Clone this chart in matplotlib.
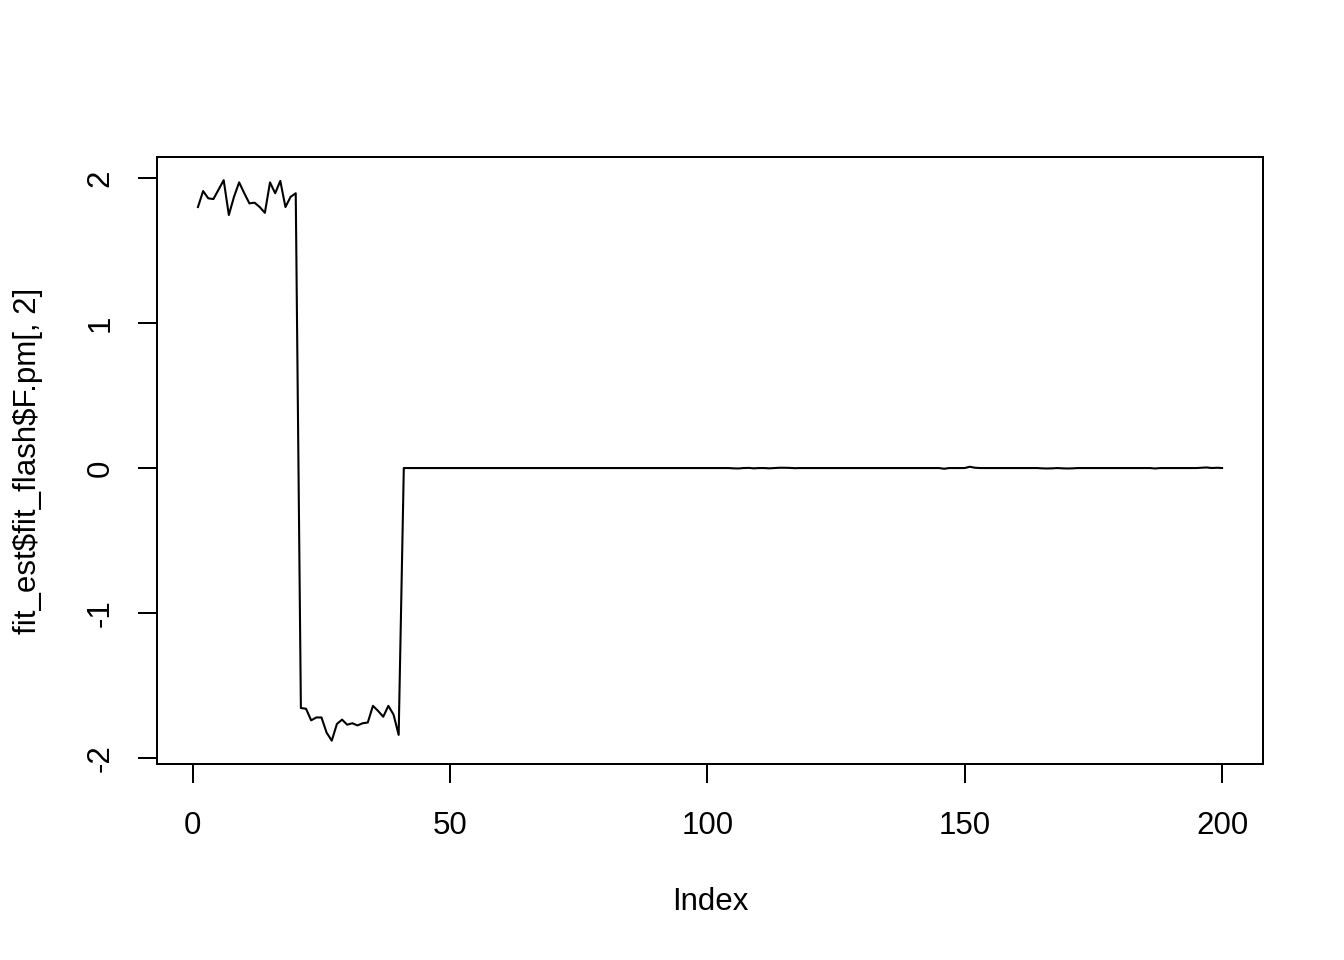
import numpy as np
import matplotlib
matplotlib.use("Agg")
import matplotlib.pyplot as plt

# ---- data (index 1..200) ----
# first block, index 1-20
block_hi = [1.80, 1.91, 1.86, 1.855, 1.92, 1.985, 1.745, 1.87, 1.97, 1.895,
            1.825, 1.83, 1.80, 1.76, 1.97, 1.895, 1.98, 1.80, 1.87, 1.895]
# second block, index 21-40
block_lo = [-1.655, -1.66, -1.74, -1.72, -1.72, -1.825, -1.88, -1.765, -1.735, -1.77,
            -1.76, -1.775, -1.76, -1.755, -1.64, -1.675, -1.715, -1.64, -1.70, -1.84]
# index 41-100: flat at zero
tail_flat = [0.0] * 60
# index 101-200: near zero with tiny wiggles
tail_wiggle = [0.0, 0.0, 0.0, 0.0, -0.002, -0.003, 0.0, 0.001, -0.002, 0.0,
               0.0, -0.002, 0.0, 0.002, 0.002, 0.001, -0.001, 0.0, 0.0, 0.0,
               0.0, 0.0, 0.0, 0.0, 0.0, 0.0, 0.0, 0.0, 0.0, 0.0,
               0.0, 0.0, 0.0, 0.0, 0.0, 0.0, 0.0, 0.0, 0.0, 0.0,
               0.0, 0.0, 0.0, 0.0, 0.0, -0.005, 0.0, 0.0, 0.0, 0.0,
               0.009, 0.002, 0.0, 0.0, 0.0, 0.0, 0.0, 0.0, 0.0, 0.0,
               0.0, 0.0, 0.0, 0.0, -0.002, -0.003, -0.002, 0.0, -0.002, -0.003,
               -0.002, 0.0, 0.0, 0.0, 0.0, 0.0, 0.0, 0.0, 0.0, 0.0,
               0.0, 0.0, 0.0, 0.0, 0.0, 0.0, -0.003, 0.0, 0.0, 0.0,
               0.0, 0.0, 0.0, 0.0, 0.0, 0.002, 0.004, 0.0, 0.002, 0.0]

values = np.array(block_hi + block_lo + tail_flat + tail_wiggle)
index = np.arange(1, len(values) + 1)

x_ticks = [0, 50, 100, 150, 200]
y_ticks = [-2, -1, 0, 1, 2]

plt.rcParams['font.family'] = ['Liberation Sans', 'DejaVu Sans']
plt.rcParams['axes.unicode_minus'] = False  # R uses a plain hyphen

fig = plt.figure(figsize=(13.44, 9.6), dpi=100)
ax = fig.add_axes([157 / 1344, 1 - 764 / 960, (1263 - 157) / 1344, (764 - 157) / 960])

ax.plot(index, values, color='black', linewidth=1.5)

ax.set_xlim(-6.96, 207.96)
ax.set_ylim(-2.041, 2.145)

ax.set_xticks(x_ticks)
ax.set_yticks(y_ticks)
ax.tick_params(axis='both', direction='out', length=13.8, width=1.44,
               labelsize=22.5, color='black')
ax.tick_params(axis='x', pad=20)
ax.tick_params(axis='y', pad=16)
for lab in ax.get_yticklabels():
    lab.set_rotation(90)
    lab.set_va('center')

for sp in ax.spines.values():
    sp.set_linewidth(1.44)
    sp.set_color('black')

# axis titles placed like R's base graphics
fig.text((157 + 1263) / 2 / 1344, 1 - 902 / 960, 'Index',
         ha='center', va='center', fontsize=22.5)
fig.text(28 / 1344, 1 - 460.5 / 960, r'fit_est\$fit_flash\$F.pm[, 2]',
         ha='center', va='center', rotation=90, fontsize=22.5)

fig.savefig('out.png', dpi=100, facecolor='white')
